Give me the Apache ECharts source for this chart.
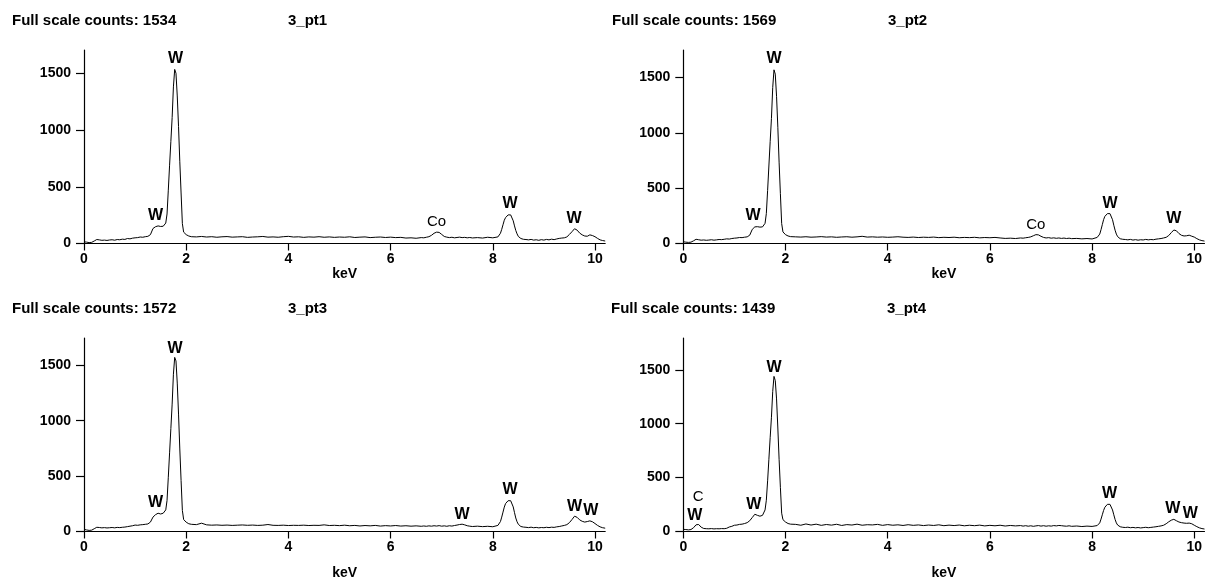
<!DOCTYPE html>
<html>
<head>
<meta charset="utf-8">
<script src="https://cdn.jsdelivr.net/npm/echarts@6/dist/echarts.min.js"></script>
<style>
  html, body { margin: 0; padding: 0; background: #fff; }
  #chart { width: 1208px; height: 583px; }
</style>
</head>
<body>
<div id="chart"></div>
<script>
// ---- Energy channels (keV), shared by all four spectra ----
const keV = [
  0,0.05,0.1,0.15,0.2,0.25,0.3,0.35,0.4,0.45,0.5,0.55,0.6,0.65,0.7,0.75,0.8,0.85,0.9,0.95,1,1.05,1.1,1.15,1.2,1.25,1.3,1.35,1.4,1.45,1.5,
  1.525,1.55,1.575,1.6,1.625,1.65,1.675,1.7,1.725,1.75,1.775,1.8,1.825,1.85,1.875,1.9,1.925,1.95,1.975,2,2.025,2.05,2.075,2.1,
  2.2,2.3,2.4,2.5,2.6,2.7,2.8,2.9,3,3.1,3.2,3.3,3.4,3.5,3.6,3.7,3.8,3.9,4,4.1,4.2,4.3,4.4,4.5,4.6,4.7,4.8,4.9,5,5.1,5.2,5.3,5.4,5.5,5.6,5.7,5.8,5.9,6,6.1,6.2,6.3,6.4,6.5,6.6,
  6.65,6.7,6.75,6.8,6.85,6.9,6.95,7,7.05,7.1,7.15,7.2,7.25,7.3,7.35,7.4,7.45,7.5,7.55,7.6,
  7.7,7.8,7.9,8,8.1,
  8.15,8.175,8.2,8.225,8.25,8.275,8.3,8.325,8.35,8.375,8.4,8.425,8.45,8.475,8.5,8.525,8.55,8.575,8.6,
  8.65,8.7,8.75,8.8,8.85,8.9,8.95,9,9.05,9.1,9.15,9.2,9.25,9.3,9.35,9.4,9.45,9.5,9.55,9.6,9.65,9.7,9.75,9.8,9.85,9.9,9.95,10,10.05,10.1,10.15,10.2
];

// ---- Counts for each spectrum ----
const counts_pt1 = [
  15,12,8,10,22,35,32,28,30,27,31,33,29,35,33,38,36,44,41,47,50,52,57,55,60,63,78,132,148,155,150,
  148,152,160,180,260,470,690,900,1110,1380,1534,1500,1300,1030,720,445,175,100,88,78,72,66,63,60,
  58,62,57,60,55,59,61,56,58,60,54,57,59,62,56,58,55,60,63,57,59,54,58,56,60,55,58,54,57,55,59,53,56,58,52,55,57,53,56,52,54,48,50,46,52,
  50,55,60,72,90,100,98,80,62,56,52,55,50,53,56,52,54,50,53,49,
  52,48,55,50,58,
  90,125,165,205,228,243,252,256,252,235,200,155,115,85,62,50,44,40,37,
  35,32,36,30,33,28,34,30,36,32,38,34,40,45,48,50,58,80,104,130,118,92,76,66,64,76,70,60,45,32,26,22
];
const counts_pt2 = [
  16,12,10,12,24,38,34,30,32,29,31,34,30,33,36,35,38,42,40,45,48,50,54,53,57,60,75,128,150,152,148,
  147,150,158,182,270,480,700,920,1130,1410,1569,1530,1330,1050,735,450,180,105,90,80,74,68,64,62,
  60,58,61,57,59,62,58,60,56,59,61,57,60,65,58,60,57,59,56,58,61,57,55,58,54,57,55,58,53,56,54,57,52,55,53,56,51,54,52,55,50,46,48,45,50,
  48,52,55,60,70,80,78,65,55,50,53,48,51,47,50,46,49,45,48,44,
  46,42,45,41,55,
  85,125,170,215,245,262,270,274,270,252,215,165,120,85,62,50,43,40,38,
  36,33,37,31,35,30,34,32,37,33,36,34,39,42,45,50,56,72,98,122,115,90,74,68,70,75,66,58,44,33,26,22
];
const counts_pt3 = [
  20,14,10,12,25,38,36,33,35,32,34,36,33,37,35,38,40,44,48,52,58,56,60,62,65,68,85,130,152,165,158,
  160,165,175,195,280,490,710,930,1150,1420,1572,1540,1340,1060,745,460,190,108,95,84,76,70,67,65,
  62,75,60,57,59,56,58,55,57,59,56,58,55,57,63,56,55,57,54,56,55,57,54,56,55,60,54,56,53,57,52,55,50,54,51,55,49,53,50,54,49,52,48,51,47,
  50,47,51,48,52,49,53,48,51,47,52,49,54,58,63,66,60,52,48,45,
  48,44,47,43,55,
  90,130,175,220,252,270,278,282,278,260,222,170,122,88,65,52,45,42,40,
  38,35,39,34,37,33,36,34,38,35,39,37,42,45,50,55,62,80,108,138,128,105,92,85,90,96,88,72,55,42,34,30
];
const counts_pt4 = [
  20,18,15,18,35,62,65,40,28,26,25,27,24,26,25,27,26,30,42,48,58,60,66,68,74,82,100,130,160,150,142,
  145,150,165,200,290,470,670,870,1060,1300,1439,1400,1230,960,670,410,170,110,95,88,80,74,70,68,
  66,58,70,60,68,57,65,59,67,56,64,60,68,58,63,61,66,57,64,58,62,56,63,57,61,55,60,56,62,54,59,55,60,53,58,54,59,52,57,53,58,51,56,52,55,
  50,54,49,53,48,52,55,50,54,49,53,50,55,52,56,54,51,49,53,48,
  51,46,50,47,55,
  80,115,155,195,225,243,252,256,252,235,200,155,112,80,60,48,44,41,39,
  37,40,35,38,34,37,33,36,39,35,38,41,44,48,52,58,72,90,105,113,100,88,82,78,76,78,72,58,45,34,27,23
];

// ---- Panel texts ----
const fullScale = [1534, 1569, 1572, 1439];
const sampleNames = ['3_pt1', '3_pt2', '3_pt3', '3_pt4'];
const yAxisMax = [1705, 1748, 1747, 1795];
const xTicks = [0, 2, 4, 6, 8, 10];
const yTicks = [0, 500, 1000, 1500];

// ---- Peak labels: [element, keV, counts] ----
const peaks_pt1 = [['W',1.79,1626],['W',1.40,242],['Co',6.90,189],['W',8.34,348],['W',9.59,220]];
const peaks_pt2 = [['W',1.775,1667],['W',1.364,248],['Co',6.90,167],['W',8.35,357],['W',9.60,221]];
const peaks_pt3 = [['W',1.78,1648],['W',1.40,262],['W',7.40,152],['W',8.34,375],['W',9.60,226],['W',9.92,185]];
const peaks_pt4 = [['C',0.29,320],['W',0.225,144],['W',1.38,250],['W',1.775,1521],['W',8.34,348],['W',9.58,209],['W',9.92,162]];

const spectra = [counts_pt1, counts_pt2, counts_pt3, counts_pt4];
const peakSets = [peaks_pt1, peaks_pt2, peaks_pt3, peaks_pt4];

// ---- Layout ----
const FONT = "'Liberation Sans', Arial, sans-serif";
const panels = [
  { left: 84,    top: 50,  headX: 12,  headY: 21,  nameX: 288, nameGap: 24 },
  { left: 683.3, top: 50,  headX: 612, headY: 21,  nameX: 888, nameGap: 24 },
  { left: 84,    top: 338, headX: 12,  headY: 309, nameX: 288, nameGap: 35 },
  { left: 683.3, top: 338, headX: 611, headY: 309, nameX: 887, nameGap: 35 }
];
const PW = 521.2, PH = 193.5;

const grid = [], xAxis = [], yAxis = [], series = [], graphic = [];
panels.forEach((p, i) => {
  grid.push({ left: p.left, top: p.top, width: PW, height: PH, containLabel: false, outerBoundsMode: 'none' });
  xAxis.push({
    type: 'value', gridIndex: i, min: 0, max: 10.2,
    name: 'keV', nameLocation: 'middle', nameGap: p.nameGap,
    nameTextStyle: { color: '#000', fontFamily: FONT, fontWeight: 'bold', fontSize: 14 },
    axisLine: { show: true, onZero: false, lineStyle: { color: '#000', width: 1.2 } },
    axisTick: { show: true, inside: false, length: 7, customValues: xTicks, lineStyle: { color: '#000', width: 1.2 } },
    axisLabel: { show: true, margin: 9, customValues: xTicks, formatter: v => String(v), color: '#000', fontFamily: FONT, fontWeight: 'bold', fontSize: 14 },
    splitLine: { show: false }
  });
  yAxis.push({
    type: 'value', gridIndex: i, min: 0, max: yAxisMax[i],
    axisLine: { show: true, onZero: false, lineStyle: { color: '#000', width: 1.2 } },
    axisTick: { show: true, inside: false, length: 8, customValues: yTicks, lineStyle: { color: '#000', width: 1.2 } },
    axisLabel: { show: true, margin: 13, customValues: yTicks, formatter: v => String(v), color: '#000', fontFamily: FONT, fontWeight: 'bold', fontSize: 14 },
    splitLine: { show: false }
  });
  const data = spectra[i].map((c, k) => [keV[k], c]).filter(d => d[0] !== undefined);
  series.push({
    type: 'line', xAxisIndex: i, yAxisIndex: i, data: data,
    showSymbol: false, symbol: 'none', smooth: false, sampling: null,
    lineStyle: { color: '#000', width: 1 }, z: 3, silent: true
  });
  series.push({
    type: 'scatter', xAxisIndex: i, yAxisIndex: i, symbolSize: 1, silent: true,
    itemStyle: { color: 'transparent' }, z: 4,
    data: peakSets[i].map(pk => ({
      value: [pk[1], pk[2]],
      label: {
        show: true, position: 'inside', formatter: pk[0], color: '#000', fontFamily: FONT,
        fontWeight: pk[0] === 'W' ? 'bold' : 'normal', fontSize: pk[0] === 'W' ? 16 : 15,
        align: 'center', verticalAlign: 'middle', textBorderWidth: 0, opacity: 1
      }
    }))
  });
  graphic.push({
    type: 'text', x: p.headX, y: p.headY,
    style: { text: 'Full scale counts: ' + fullScale[i], fill: '#000', font: 'bold 15px ' + FONT, textVerticalAlign: 'middle', verticalAlign: 'middle' }
  });
  graphic.push({
    type: 'text', x: p.nameX, y: p.headY,
    style: { text: sampleNames[i], fill: '#000', font: 'bold 15px ' + FONT, textVerticalAlign: 'middle', verticalAlign: 'middle' }
  });
});

const chart = echarts.init(document.getElementById('chart'), null, { renderer: 'canvas' });
chart.setOption({
  backgroundColor: '#fff',
  animation: false,
  grid, xAxis, yAxis, series, graphic
});
</script>
</body>
</html>
